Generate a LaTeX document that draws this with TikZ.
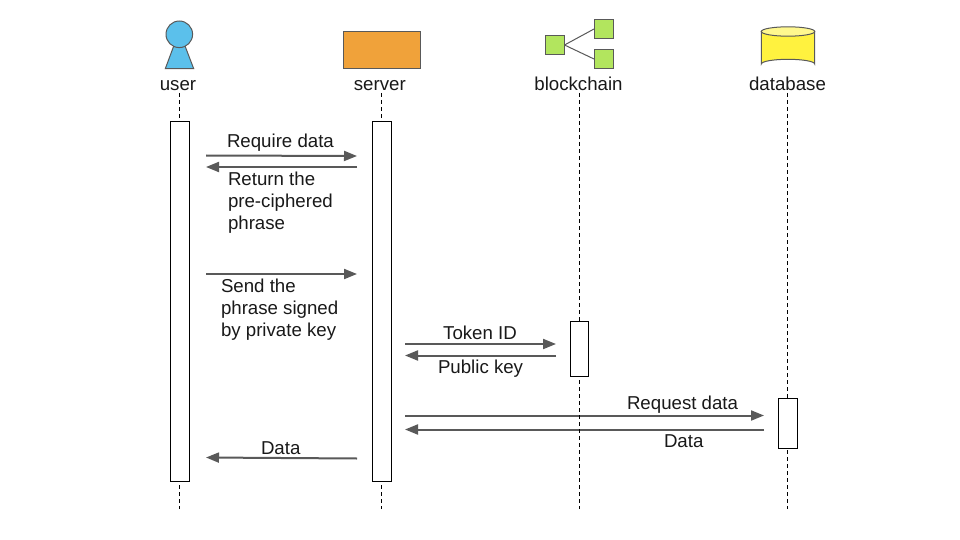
\documentclass[tikz,border=0pt]{standalone}
\usepackage{fontspec}
\setmainfont{Liberation Sans}
\usetikzlibrary{arrows.meta}
\definecolor{arrowgray}{HTML}{595959}
\definecolor{edgegray}{HTML}{595959}
\definecolor{userblue}{HTML}{5BC0EB}
\definecolor{serverorange}{HTML}{F0A23A}
\definecolor{chaingreen}{HTML}{B2E55E}
\definecolor{dbyellow}{HTML}{FFF23F}
\definecolor{dblight}{HTML}{FFF88F}
\tikzset{
  x=1pt,y=-1pt,
  txt/.style={inner sep=0pt,outer sep=0pt,font=\fontsize{18.67pt}{22pt}\selectfont,text=black!90},
  actbox/.style={draw=black,fill=white,line width=1pt,inner sep=0pt,outer sep=0pt,anchor=north west},
  lifeline/.style={draw=black,line width=1pt,dash pattern=on 4pt off 3pt},
  msg/.style={draw=arrowgray,line width=2pt,-{Triangle[length=13pt,width=10pt]}},
  iconedge/.style={draw=edgegray,line width=1pt},
  chainbox/.style={iconedge,fill=chaingreen,minimum width=19pt,minimum height=19pt,inner sep=0pt,outer sep=0pt,anchor=north west},
}
\begin{document}
\begin{tikzpicture}
\useasboundingbox (0,0) rectangle (960,540);
\fill[white] (0,0) rectangle (960,540);
% icons
\draw[iconedge,fill=userblue] (165.3,68.7) -- (179.3,31) -- (193.7,68.7) -- cycle;
\draw[iconedge,fill=userblue] (179.3,34.3) circle (13.3);
\node[iconedge,fill=serverorange,minimum width=77pt,minimum height=37pt,inner sep=0pt,outer sep=0pt,anchor=north west] (serverbox) at (343.5,31.5) {};
\node[chainbox] (chainA) at (545.5,35.5) {};
\node[chainbox] (chainB) at (594,19.5) {};
\node[chainbox] (chainC) at (594,49.5) {};
\draw[iconedge] (chainA.east) -- (chainB.west);
\draw[iconedge] (chainA.east) -- (chainC.west);
\draw[iconedge,fill=dbyellow] (761.3,31.5) -- (761.3,64) arc[start angle=180,end angle=360,x radius=26.7,y radius=4.7] -- (814.7,31.5) -- cycle;
\draw[iconedge,fill=dblight] (788,31.5) ellipse[x radius=26.7,y radius=4.7];
% heads
\node[txt,anchor=base] (user) at (178,91) {user};
\node[txt,anchor=base] (server) at (379.8,91) {server};
\node[txt,anchor=base] (blockchain) at (578.5,91) {blockchain};
\node[txt,anchor=base] (database) at (787.5,91) {database};
% ends
\coordinate (utop) at (179.8,93);
\coordinate (stop) at (381.5,93);
\coordinate (btop) at (579.6,93);
\coordinate (dtop) at (787.4,93);
\coordinate (ubot) at (179.8,509);
\coordinate (sbot) at (381.5,509);
\coordinate (bbot) at (579.6,509);
\coordinate (dbot) at (787.4,509);
% message ends
\coordinate (a1) at (206,155.5); \coordinate (a2) at (357,156);
\coordinate (b1) at (357,167); \coordinate (b2) at (206,167);
\coordinate (c1) at (206,274); \coordinate (c2) at (357,274);
\coordinate (d1) at (405,344); \coordinate (d2) at (556,344);
\coordinate (e1) at (556,355.5); \coordinate (e2) at (405,355.5);
\coordinate (f1) at (405,415.5); \coordinate (f2) at (764,415.5);
\coordinate (g1) at (764,429.5); \coordinate (g2) at (405,429.5);
\coordinate (h1) at (357,458.5); \coordinate (h2) at (206,457.5);
\draw[msg] (a1) -- (a2);
\draw[msg] (b1) -- (b2);
\draw[msg] (c1) -- (c2);
\draw[msg] (d1) -- (d2);
\draw[msg] (e1) -- (e2);
\draw[msg] (f1) -- (f2);
\draw[msg] (g1) -- (g2);
\draw[msg] (h1) -- (h2);
% lifelines
\draw[lifeline] (utop) -- (ubot);
\draw[lifeline] (stop) -- (sbot);
\draw[lifeline] (btop) -- (bbot);
\draw[lifeline] (dtop) -- (dbot);
% activations
\node[actbox,minimum width=18.6pt,minimum height=360pt] (uact) at (170.7,121.3) {};
\node[actbox,minimum width=19pt,minimum height=360pt] (sact) at (372.5,121.3) {};
\node[actbox,minimum width=18.4pt,minimum height=55.4pt] (bact) at (570.3,321.3) {};
\node[actbox,minimum width=19.4pt,minimum height=50pt] (dact) at (778.3,398.3) {};
% labels
\node[txt,anchor=base west] (t1) at (227,148) {Require data};
\node[txt,anchor=north west,align=left] (t2) at (228,172.3) {Return the\\pre-ciphered\\phrase};
\node[txt,anchor=north west,align=left] (t3) at (221,279.3) {Send the\\phrase signed\\by private key};
\node[txt,anchor=base] (t4) at (480,339) {Token ID};
\node[txt,anchor=base west] (t5) at (438,373) {Public key};
\node[txt,anchor=base west] (t6) at (627,409.5) {Request data};
\node[txt,anchor=base west] (t7) at (664,447.5) {Data};
\node[txt,anchor=base west] (t8) at (261,454.5) {Data};
\end{tikzpicture}
\end{document}
